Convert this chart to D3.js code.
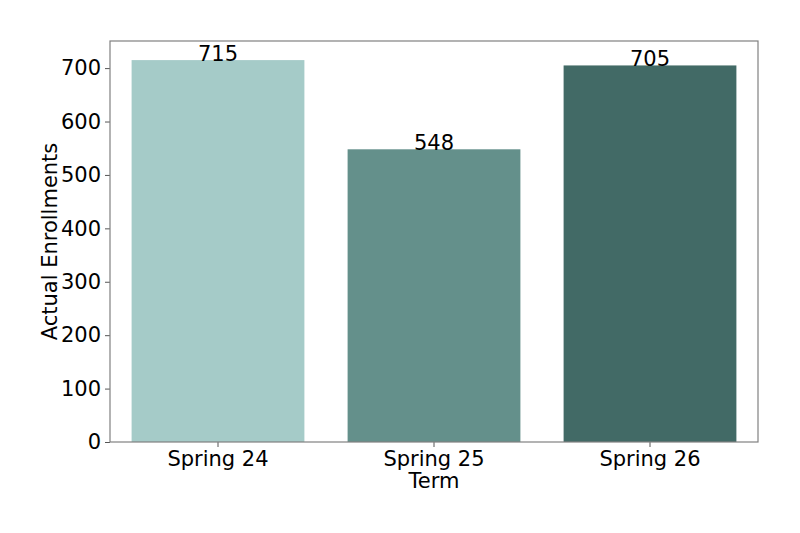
<!DOCTYPE html>
<html>
<head>
<meta charset="utf-8">
<script src="https://cdn.jsdelivr.net/npm/d3@7"></script>
<style>
  body { margin: 0; background: #fff; }
  svg { font-family: "DejaVu Sans", sans-serif; }
</style>
</head>
<body>
<div id="chart"></div>
<script>
// data
const terms = ["Spring 24", "Spring 25", "Spring 26"]
const enrollments = [715, 548, 705]
const barColors = ["#a5cbc8", "#64908b", "#426a66"]
const yTicks = [0, 100, 200, 300, 400, 500, 600, 700]

const W = 800, H = 533
const plot = { left: 110, right: 758, top: 41, bottom: 442 }
const fs = 21

const svg = d3.select('#chart').append('svg')
  .attr('width', W)
  .attr('height', H)

const x = d3.scaleBand()
  .domain(terms)
  .range([plot.left, plot.right])
  .paddingInner(0.2)
  .paddingOuter(0.1)

const y = d3.scaleLinear()
  .domain([0, d3.max(enrollments) * 1.05])
  .range([plot.bottom, plot.top])

// bars
svg.selectAll('rect.bar')
  .data(terms).enter().append('rect')
  .attr('class', 'bar')
  .attr('x', d => x(d))
  .attr('width', x.bandwidth())
  .attr('y', (d, i) => y(enrollments[i]))
  .attr('height', (d, i) => y(0) - y(enrollments[i]))
  .attr('fill', (d, i) => barColors[i])

// value labels on top
svg.selectAll('text.val')
  .data(terms).enter().append('text')
  .attr('class', 'val')
  .attr('x', d => x(d) + x.bandwidth() / 2)
  .attr('y', (d, i) => y(enrollments[i]) + 1)
  .attr('text-anchor', 'middle')
  .attr('font-size', fs)
  .attr('fill', '#000')
  .text((d, i) => enrollments[i])

// axes
const yAxis = svg.append('g')
  .attr('transform', `translate(${plot.left},0)`)
  .call(d3.axisLeft(y).tickValues(yTicks).tickSize(5).tickPadding(4))
yAxis.select('.domain').remove()
yAxis.selectAll('line').attr('stroke', '#555')
yAxis.selectAll('text').attr('font-size', fs).attr('fill', '#000')
  .attr('font-family', '"DejaVu Sans", sans-serif')

const xAxis = svg.append('g')
  .attr('transform', `translate(0,${plot.bottom})`)
  .call(d3.axisBottom(x).tickSize(5).tickPadding(4))
xAxis.select('.domain').remove()
xAxis.selectAll('line').attr('stroke', '#555')
xAxis.selectAll('text').attr('font-size', fs).attr('fill', '#000')
  .attr('font-family', '"DejaVu Sans", sans-serif')

// frame
svg.append('rect')
  .attr('x', plot.left)
  .attr('y', plot.top)
  .attr('width', plot.right - plot.left)
  .attr('height', plot.bottom - plot.top)
  .attr('fill', 'none')
  .attr('stroke', '#808080')
  .attr('stroke-width', 1.2)

// axis titles
svg.append('text')
  .attr('x', (plot.left + plot.right) / 2)
  .attr('y', 488)
  .attr('text-anchor', 'middle')
  .attr('font-size', fs)
  .text('Term')

svg.append('text')
  .attr('transform', `translate(57,${(plot.top + plot.bottom) / 2}) rotate(-90)`)
  .attr('text-anchor', 'middle')
  .attr('font-size', fs)
  .text('Actual Enrollments')
</script>
</body>
</html>
